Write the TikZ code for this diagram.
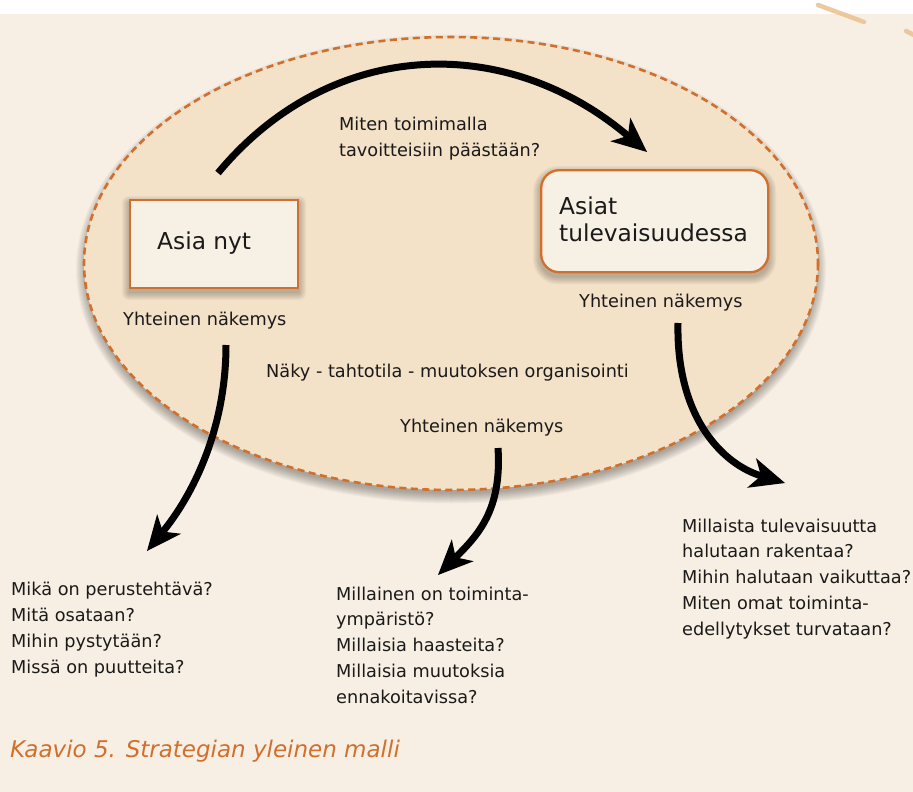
\documentclass[tikz,border=0pt]{standalone}
\usepackage{fontspec}
\setmainfont{DejaVu Sans}
\usetikzlibrary{arrows.meta,calc}

\definecolor{paper}{HTML}{F7EFE4}
\definecolor{oval}{HTML}{F3E1C8}
\definecolor{rust}{HTML}{D16F2C}
\definecolor{boxbg}{HTML}{F7F0E5}
\definecolor{streak}{HTML}{EBC090}
\definecolor{ink}{HTML}{1A1A1A}

\pgfdeclarelayer{ground}
\pgfdeclarelayer{shade}
\pgfsetlayers{ground,shade,main}

\tikzset{
  % multi-line nodes sit on the baseline of their last line
  txt/.style={font=\fontsize{17.7}{25.7}\selectfont, inner sep=0pt,
    anchor=base west, align=left, text=ink},
  boxtxt/.style={font=\fontsize{23.3}{27}\selectfont, inner sep=0pt,
    anchor=base west, align=left, text=ink},
  framebox/.style={draw=rust, line width=2.3pt, fill=boxbg, inner sep=0pt},
  softshade/.style={black, opacity=.032},
  flow/.style={line width=7pt, black,
    -{Stealth[length=35pt, width=31pt, inset=10pt, line width=0pt]}},
  streakline/.style={streak, line width=4.5pt, line cap=round, opacity=.85},
}

\begin{document}
\begin{tikzpicture}[x=1pt, y=-1pt]
\useasboundingbox (0,0) rectangle (913,792);

\begin{pgfonlayer}{ground}
  % page background and top band
  \fill[white] (0,0) rectangle (913,14);
  \fill[paper] (0,14) rectangle (913,792);
  \draw[streakline] (818,5) -- (864,22);
  \draw[streakline] (906,31) -- (916,36);
  % soft shadow under the oval
  \foreach \k in {-2,...,8}
    \fill[softshade] (451,269) ellipse [x radius=367+\k, y radius=226.5+\k];
  % shared-vision oval
  \fill[oval] (451,263.5) ellipse [x radius=367, y radius=226.5];
  \draw[rust, line width=2.6pt, dash pattern=on 7pt off 4.5pt]
    (451,263.5) ellipse [x radius=367, y radius=226.5];
\end{pgfonlayer}

% present and future boxes
\node[framebox, minimum width=167.7pt, minimum height=87.7pt] (now) at (214,244) {};
\node[framebox, rounded corners=18pt, minimum width=227pt, minimum height=102pt]
  (future) at (654.7,221.2) {};

\begin{pgfonlayer}{shade}
  \foreach \k in {0,...,7} {
    \fill[softshade, rounded corners=\k pt]
      ($(now.north west)+(-\k,4-\k)$) rectangle ($(now.south east)+(\k,4+\k)$);
    \fill[softshade, rounded corners=18pt+\k pt]
      ($(future.north west)+(-\k,4-\k)$) rectangle ($(future.south east)+(\k,4+\k)$);
  }
\end{pgfonlayer}

\node[boxtxt] (nowlbl) at (157,249) {Asia nyt};
\node[boxtxt] (futlbl) at (559,241) {Asiat\\tulevaisuudessa};

% labels inside the oval
\node[txt] (how) at (339,156) {Miten toimimalla\\tavoitteisiin päästään?};
\node[txt] (sharedA) at (123,325) {Yhteinen näkemys};
\node[txt] (sharedB) at (579,307) {Yhteinen näkemys};
\node[txt] (motto) at (266,377) {Näky - tahtotila - muutoksen organisointi};
\node[txt] (sharedC) at (400,432) {Yhteinen näkemys};

% question lists
\node[txt] (nowq) at (11,673)
  {Mikä on perustehtävä?\\Mitä osataan?\\Mihin pystytään?\\Missä on puutteita?};
\node[txt] (envq) at (336,703)
  {Millainen on toiminta-\\ympäristö?\\Millaisia haasteita?\\Millaisia muutoksia\\ennakoitavissa?};
\node[txt] (goalq) at (682,635)
  {Millaista tulevaisuutta\\halutaan rakentaa?\\Mihin halutaan vaikuttaa?\\Miten omat toiminta-\\edellytykset turvataan?};

% caption
\node[font=\fontsize{23}{27}\selectfont\itshape, text=rust, inner sep=0pt,
  anchor=base west] (caption) at (10,757) {Kaavio 5. Strategian yleinen malli};

% curved arrows
\coordinate (topS) at (218,173);
\coordinate (topE) at (647,152);
\draw[flow] (topS) .. controls (330,38) and (505,32) .. (topE);

\coordinate (leftS) at (226,345);
\coordinate (leftE) at (147,551);
\draw[flow] (leftS) .. controls (226,430) and (192,496) .. (leftE);

\coordinate (midS) at (498,448);
\coordinate (midE) at (438,575);
\draw[flow] (midS) .. controls (502,510) and (478,535) .. (midE);

\coordinate (rightS) at (678,323);
\coordinate (rightE) at (785,483);
\draw[flow] (rightS) .. controls (676,420) and (725,465) .. (rightE);
\end{tikzpicture}
\end{document}
